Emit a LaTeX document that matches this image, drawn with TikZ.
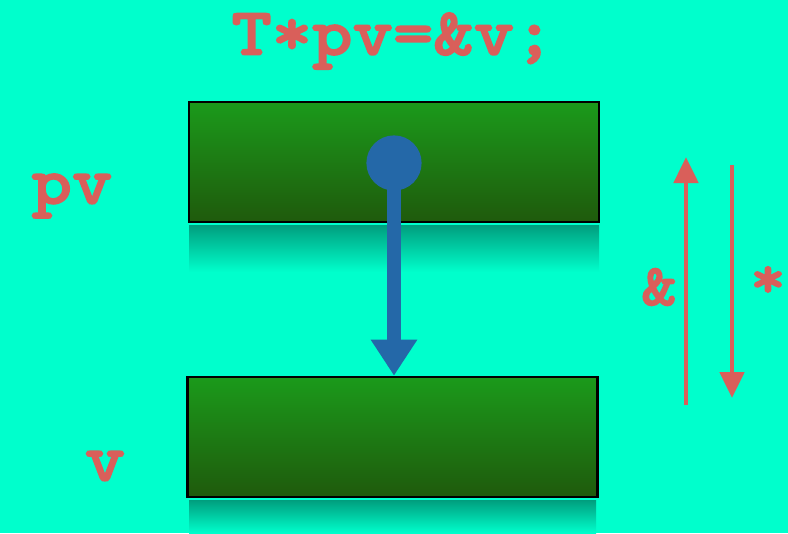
\documentclass[tikz,border=0pt]{standalone}
\usepackage{fontspec}
\newfontfamily\codefont[FakeStretch=1.14, FakeBold=2.2]{lmmonolt10-bold.otf}
\usetikzlibrary{arrows.meta}
\definecolor{bgteal}{HTML}{00FFCC}
\definecolor{codered}{HTML}{D95F5A}
\definecolor{ptrblue}{HTML}{2468A8}
\definecolor{boxtop}{HTML}{1B9A1B}
\definecolor{boxbottom}{HTML}{1F5A0C}
\definecolor{shadow}{HTML}{009E7E}
\tikzset{
  varbox/.style={draw=black, line width=1.8pt, top color=boxtop, bottom color=boxbottom,
    minimum width=10.25cm, minimum height=3cm, inner sep=0pt},
  code/.style={text=codered, font=\codefont\fontsize{48}{50}\selectfont},
  opsign/.style={text=codered, font=\codefont\fontsize{42}{46}\selectfont},
  redarrow/.style={draw=codered, line width=3.5pt, -{Triangle[width=0.6cm, length=0.65cm]}},
}
\begin{document}
\begin{tikzpicture}[x=0.025cm, y=-0.025cm]
    \fill[bgteal] (0,0) rectangle (788,533);
    \useasboundingbox (0,0) rectangle (788,533);
    % reflections
    \shade[top color=shadow, bottom color=bgteal] (189,225) rectangle (599,272);
    \shade[top color=shadow, bottom color=bgteal] (189,500) rectangle (596,533);
    % the two variables
    \node[varbox] (pvbox) at (394,162) {};
    \node[varbox] (vbox) at (392.5,437) {};
    \node[code] (title) at (393,41) {T*pv=\&v;};
    \node[code] (pvlabel) at (72,196) {pv};
    \node[code] (vlabel) at (105,466) {v};
    % pointer
    \node[circle, fill=ptrblue, minimum size=1.38cm, inner sep=0pt] (dot) at (394,163) {};
    \draw[ptrblue, line width=0.33cm, -{Triangle[width=1.1cm, length=0.9cm]}] (dot.center) -- (vbox.north -| dot);
    % address-of and dereference
    \coordinate (amplow) at (686,405);
    \coordinate (amphigh) at (686,157);
    \coordinate (starhigh) at (732,165);
    \coordinate (starlow) at (732,398);
    \draw[redarrow] (amplow) -- (amphigh);
    \draw[redarrow] (starhigh) -- (starlow);
    \node[opsign] (amp) at (659,287) {\&};
    \node[opsign] (star) at (768,282) {*};
\end{tikzpicture}
\end{document}
